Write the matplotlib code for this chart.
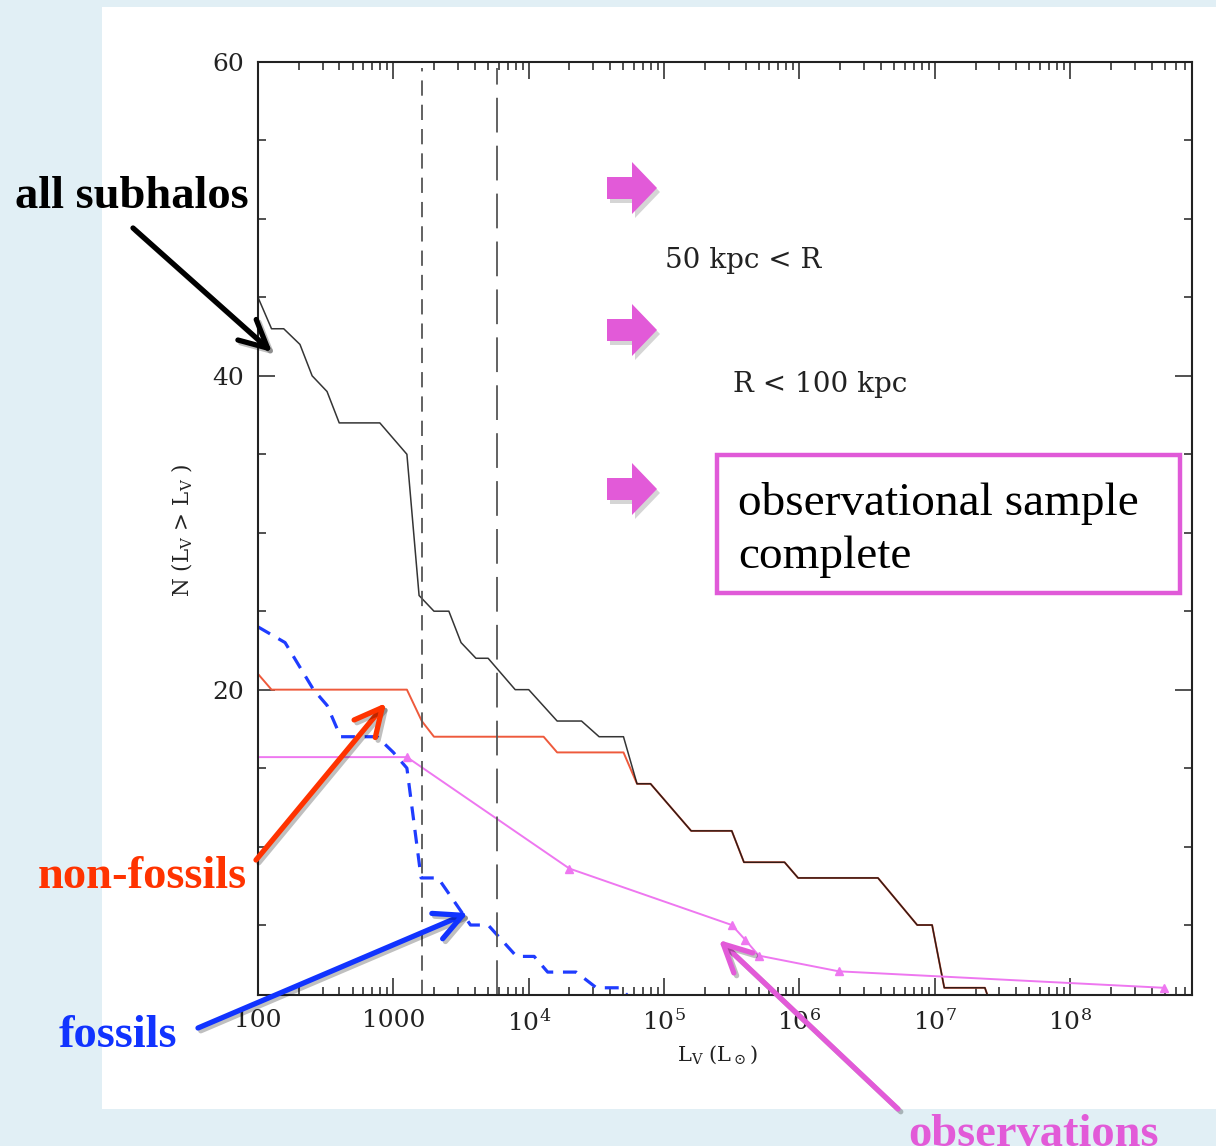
import numpy as np
import matplotlib.pyplot as plt
import matplotlib.patheffects as pe
from matplotlib.patches import Rectangle, Polygon, FancyArrowPatch
from matplotlib.ticker import FixedLocator, MultipleLocator, LogLocator, NullFormatter, FuncFormatter

plt.rcParams['font.family'] = ['DejaVu Serif']
plt.rcParams['mathtext.fontset'] = 'dejavuserif'
plt.rcParams['lines.scale_dashes'] = False

# cumulative counts N(>L_V), luminosities stored as log10(L_V / L_sun)
logL_all = [2.00, 2.10, 2.19, 2.31, 2.40, 2.51, 2.60, 2.90, 3.10, 3.19, 3.30,
            3.41, 3.50, 3.61, 3.70, 3.90, 4.00, 4.21, 4.39, 4.52, 4.70, 4.80,
            4.90, 5.20, 5.50, 5.59, 5.89, 5.99, 6.58, 6.87, 6.98, 7.07, 7.37, 7.41]
N_all = [45, 43, 43, 42, 40, 39, 37, 37, 35, 26, 25,
         25, 23, 22, 22, 20, 20, 18, 18, 17, 17, 14,
         14, 11, 11, 9, 9, 8, 8, 5, 5, 1, 1, 0]

logL_nonfossil = [2.00, 2.10, 3.10, 3.21, 3.30, 4.11, 4.21, 4.70, 4.80,
                  4.90, 5.20, 5.50, 5.59, 5.89, 5.99, 6.58, 6.87, 6.98, 7.07, 7.37, 7.41]
N_nonfossil = [21, 20, 20, 18, 17, 17, 16, 16, 14,
               14, 11, 11, 9, 9, 8, 8, 5, 5, 1, 1, 0]

logL_fossil = [2.00, 2.20, 2.41, 2.51, 2.61, 2.88, 3.00, 3.10, 3.205, 3.33,
               3.57, 3.70, 3.91, 4.04, 4.14, 4.35, 4.50, 4.68, 4.78]
N_fossil = [24, 23, 20, 19, 17, 17, 16, 15, 8, 8,
            5, 5, 3, 3, 2, 2, 1, 1, 0]

logL_obs = [2.00, 3.10, 4.30, 5.50, 5.60, 5.70, 6.29, 8.69]
N_obs = [15.7, 15.7, 8.6, 5.0, 4.05, 3.05, 2.05, 1.0]

# completeness limits
logL_limits = [3.212, 3.768]

x_labels = {2: '100', 3: '1000'}

W, H = 1216, 1146
fig = plt.figure(figsize=(W / 100, H / 100), dpi=100, facecolor='#e1eff5')


def fx(x):
    return x / W


def fy(y):
    return 1 - y / H


# white slide panel behind the plot
fig.add_artist(Rectangle((fx(102), fy(1109)), 1 - fx(102), fy(7) - fy(1109),
                         transform=fig.transFigure, facecolor='white',
                         edgecolor='none', zorder=-5))

ax = fig.add_axes([fx(258), fy(995), fx(1192) - fx(258), fy(62) - fy(995)])
ax.set_xscale('log')

ax.plot(10 ** np.array(logL_nonfossil), N_nonfossil, color='#ee5a3c', lw=1.4)
ax.plot(10 ** np.array(logL_all), N_all, color='#111111', lw=1.1, alpha=0.85)
ax.plot(10 ** np.array(logL_fossil), N_fossil, color='#1f3cff', lw=2.3,
        ls=(0, (10, 7)))
ax.plot(10 ** np.array(logL_obs), N_obs, color='#ee77f0', lw=1.4,
        marker='^', ms=6, markevery=list(range(1, len(N_obs))))

ax.axvline(10 ** logL_limits[0], ymax=0.994, color='#555555', lw=1.3,
           ls=(0, (11, 6.5)))
ax.axvline(10 ** logL_limits[1], ymax=0.994, color='#555555', lw=1.3,
           ls=(0, (25, 9.5)))

ax.set_xlim(1e2, 10 ** 8.9)
ax.set_ylim(0.54, 60)

ax.xaxis.set_major_locator(LogLocator(base=10, numticks=12))
ax.xaxis.set_minor_locator(LogLocator(base=10, subs=np.arange(2, 10), numticks=12))
ax.xaxis.set_minor_formatter(NullFormatter())
ax.xaxis.set_major_formatter(FuncFormatter(
    lambda v, p: x_labels.get(int(round(np.log10(v))),
                              r'10$^{%d}$' % int(round(np.log10(v))))))
ax.yaxis.set_major_locator(FixedLocator([20, 40, 60]))
ax.yaxis.set_minor_locator(MultipleLocator(5))

ax.tick_params(which='both', direction='in', top=True, right=True,
               width=1.1, colors='#222222', labelsize=18, pad=10)
ax.tick_params(which='major', length=12.5)
ax.tick_params(which='minor', length=6)
for s in ax.spines.values():
    s.set_linewidth(1.5)
    s.set_color('#222222')

fig.text(fx(182), fy(530), r'N (L$_\mathrm{V}$ > L$_\mathrm{V}$ )', rotation=90,
         ha='center', va='center', fontsize=15.5, color='#222222')
fig.text(fx(717), fy(1055), r'L$_\mathrm{V}$ (L$_\odot$)',
         ha='center', va='center', fontsize=15, color='#222222')

# radial range and the completeness box
fig.text(fx(665), fy(260), '50 kpc < R', fontsize=20, va='center', color='#222222')
fig.text(fx(733), fy(385), 'R < 100 kpc', fontsize=20, va='center', color='#222222')

fig.add_artist(Rectangle((fx(717), fy(593)), fx(1180) - fx(717), fy(455) - fy(593),
                         transform=fig.transFigure, facecolor='white',
                         edgecolor='#e05ad8', lw=3.2, zorder=5))
fig.text(fx(738), fy(515), 'observational sample', fontsize=34,
         family='Liberation Serif', va='baseline', zorder=6)
fig.text(fx(738), fy(568), 'complete', fontsize=34,
         family='Liberation Serif', va='baseline', zorder=6)

# block arrows pointing at the three statements
for cy in [188, 330, 489]:
    pts = [(607, cy - 11), (632, cy - 11), (632, cy - 26), (657, cy),
           (632, cy + 26), (632, cy + 11), (607, cy + 11)]
    shadow = [(fx(x + 3), fy(y + 4)) for x, y in pts]
    fig.add_artist(Polygon(shadow, closed=True, transform=fig.transFigure,
                           facecolor='#888888', alpha=0.35, edgecolor='none', zorder=6))
    fig.add_artist(Polygon([(fx(x), fy(y)) for x, y in pts], closed=True,
                           transform=fig.transFigure, facecolor='#e25ad8',
                           edgecolor='none', zorder=7))

# labels and pointer arrows
labels = [
    ('all subhalos', 15, 208, '#000000', (133, 228), (272, 352)),
    ('non-fossils', 38, 888, '#ff3300', (256, 860), (386, 703)),
    ('fossils', 59, 1047, '#1133ff', (198, 1028), (468, 913)),
    ('observations', 908, 1146, '#e25ad8', (898, 1109), (719, 940)),
]
for text, tx, ty, col, tail, head in labels:
    fig.text(fx(tx), fy(ty), text, fontsize=33.5, fontweight='bold',
             family='Liberation Serif', color=col, va='baseline', zorder=8)
    arrow = FancyArrowPatch((fx(tail[0]), fy(tail[1])), (fx(head[0]), fy(head[1])),
                            transform=fig.transFigure,
                            arrowstyle='->,head_length=0.9,head_width=0.45',
                            mutation_scale=22, lw=3.8, color=col,
                            shrinkA=0, shrinkB=0, zorder=8,
                            path_effects=[pe.SimpleLineShadow(offset=(2, -2), alpha=0.25),
                                          pe.Normal()])
    fig.add_artist(arrow)

fig.savefig('out.png', dpi=100, facecolor=fig.get_facecolor())
